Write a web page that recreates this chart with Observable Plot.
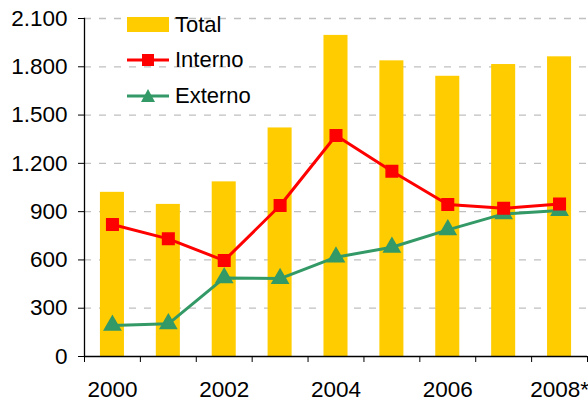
<!DOCTYPE html>
<html>
<head>
<meta charset="utf-8">
<script src="https://cdn.jsdelivr.net/npm/d3@7"></script>
<script src="https://cdn.jsdelivr.net/npm/@observablehq/plot@0.6"></script>
<style>
  html, body { margin: 0; padding: 0; background: #fff; }
  #wrap { position: relative; width: 588px; height: 403px; font-family: "Liberation Sans", Arial, sans-serif; }
  #legend { position: absolute; left: 127px; top: 7px; font-size: 22px; color: #000; }
  .row { display: flex; align-items: center; height: 35.5px; }
  .row svg { margin-right: 6px; }
</style>
</head>
<body>
<div id="wrap"><div id="legend"></div></div>
<script>
const years = ["2000","2001","2002","2003","2004","2005","2006","2007","2008*"];
const labeledYears = ["2000","2002","2004","2006","2008*"];
const total   = [1020, 945, 1085, 1420, 1995, 1837, 1741, 1814, 1862];
const interno = [820, 731, 596, 938, 1373, 1151, 944, 921, 948];
const externo = [193, 203, 488, 484, 617, 679, 787, 886, 907];
const yTicks = [0, 300, 600, 900, 1200, 1500, 1800, 2100];

const colors = { total: "#FFCC00", interno: "#FF0000", externo: "#339966" };

const rows = years.map((y, i) => ({ year: y, total: total[i], interno: interno[i], externo: externo[i] }));
const fmt = d3.formatLocale({ decimal: ",", thousands: ".", grouping: [3], currency: ["", ""] }).format(",d");

const W = 588, H = 403, mL = 84, mR = 1, mT = 18, mB = 47;
const step = (W - mL - mR) / years.length;
const FS = 22.5;

const plot = Plot.plot({
  width: W, height: H,
  marginLeft: mL, marginRight: mR, marginTop: mT, marginBottom: mB,
  style: { fontFamily: "'Liberation Sans', Arial, sans-serif", fontSize: FS + "px", color: "#000", background: "#fff" },
  x: { domain: years, type: "band", paddingInner: 0.57, paddingOuter: 0.285, round: false },
  y: { domain: [0, 2100] },
  marks: [
    Plot.ruleY(yTicks.filter(d => d > 0), { stroke: "#c0c0c0", strokeWidth: 1.3, strokeDasharray: "7,8" }),
    Plot.barY(rows, { x: "year", y: "total", fill: colors.total }),
    Plot.line(rows, { x: "year", y: "externo", stroke: colors.externo, strokeWidth: 3 }),
    Plot.dot(rows, { x: "year", y: "externo", symbol: "triangle", r: 6, fill: colors.externo, stroke: colors.externo }),
    Plot.line(rows, { x: "year", y: "interno", stroke: colors.interno, strokeWidth: 3 }),
    Plot.dot(rows, { x: "year", y: "interno", symbol: "square", r: 6.5, fill: colors.interno, stroke: colors.interno }),
    Plot.axisY({ ticks: yTicks, tickFormat: fmt, tickSize: 6, tickPadding: 11, label: null, stroke: "#000", fontSize: FS }),
    Plot.axisX({ ticks: labeledYears, tickSize: 0, tickPadding: 25, label: null, fontSize: FS }),
    Plot.axisX({ ticks: years, tickSize: 6, tickFormat: () => "", dx: -step / 2, label: null, stroke: "#000" }),
    Plot.axisX({ ticks: [years[years.length - 1]], tickSize: 6, tickFormat: () => "", dx: step / 2, label: null, stroke: "#000" }),
    Plot.frame({ anchor: "left", stroke: "#000", strokeWidth: 1.3 }),
    Plot.ruleY([0], { stroke: "#000", strokeWidth: 1.3 })
  ]
});
document.getElementById("wrap").prepend(plot);

// Legend
const legend = d3.select("#legend");
const items = [
  { name: "Total", kind: "bar", color: colors.total },
  { name: "Interno", kind: "square", color: colors.interno },
  { name: "Externo", kind: "triangle", color: colors.externo }
];
items.forEach(it => {
  const row = legend.append("div").attr("class", "row");
  const s = row.append("svg").attr("width", 42).attr("height", 20);
  if (it.kind === "bar") {
    s.append("rect").attr("x", 0).attr("y", 2).attr("width", 42).attr("height", 15).attr("fill", it.color);
  } else {
    s.append("line").attr("x1", 0).attr("x2", 42).attr("y1", 10).attr("y2", 10).attr("stroke", it.color).attr("stroke-width", 3);
    if (it.kind === "square") {
      s.append("rect").attr("x", 15).attr("y", 4).attr("width", 12).attr("height", 12).attr("fill", it.color);
    } else {
      s.append("path").attr("d", "M21,3 L28,16 L14,16 Z").attr("fill", it.color);
    }
  }
  row.append("span").text(it.name);
});
</script>
</body>
</html>
